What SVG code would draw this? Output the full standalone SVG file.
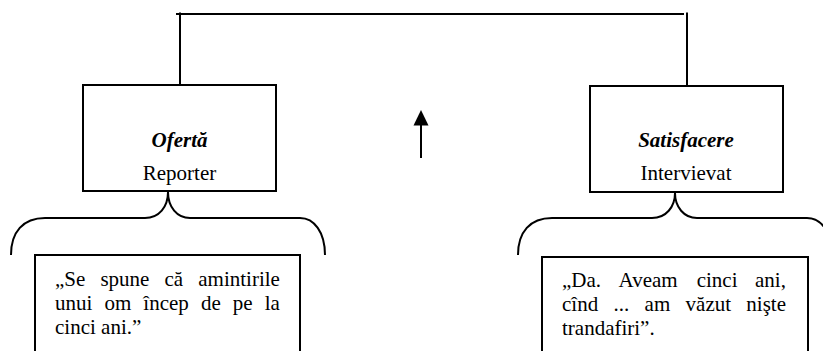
<svg xmlns="http://www.w3.org/2000/svg" width="823" height="351" viewBox="0 0 823 351">
<style>
.ln{fill:none;stroke:#000;stroke-width:2}
.box{fill:#fff;stroke:#000;stroke-width:2}
text{font-family:'Liberation Serif',serif;font-size:21px;fill:#000}
.h{font-weight:bold;font-style:italic}
.c{text-anchor:middle}
</style>
<rect width="823" height="351" fill="#fff"/>
<g id="connectors">
<line class="ln" x1="176" y1="14" x2="684" y2="14"/>
<line class="ln" x1="180" y1="12.5" x2="180" y2="85"/>
<line class="ln" x1="687" y1="12.5" x2="687" y2="86"/>
<line class="ln" x1="421" y1="158" x2="421" y2="122"/>
<polygon points="421,110 413.5,125.5 428.5,125.5" fill="#000"/>
<path class="ln" d="M11,255 C11,232 23,218 45,218 L145,218 C159,218 168,207 168,192 L168,184 M168,192 C168,207 177,218 190,218 L300,218 C314,218 325,232 325,255"/>
<path class="ln" d="M518,255 C518,232 530,218 552,218 L652,218 C666,218 675,207 675,193 L675,185 M675,193 C675,207 684,218 697,218 L807,218 C821,218 832,232 832,255"/>
</g>
<g id="oferta">
<rect class="box" x="83" y="85" width="193" height="106"/>
<text class="h c" x="179.5" y="147" font-family="Liberation Serif, serif">Ofertă</text>
<text class="c" x="179.5" y="180" font-family="Liberation Serif, serif">Reporter</text>
</g>
<g id="satisfacere">
<rect class="box" x="590" y="86" width="193" height="106"/>
<text class="h c" x="686" y="147" font-family="Liberation Serif, serif">Satisfacere</text>
<text class="c" x="686" y="180" font-family="Liberation Serif, serif">Intervievat</text>
</g>
<g id="quote-left" font-family="Liberation Serif, serif">
<rect class="box" x="35" y="255" width="265" height="110"/>
<text y="286"><tspan x="55">„Se</tspan><tspan x="100.4">spune</tspan><tspan x="164.5">că</tspan><tspan x="198.3">amintirile</tspan></text>
<text y="310"><tspan x="55">unui</tspan><tspan x="104.4">om</tspan><tspan x="143.3">încep</tspan><tspan x="200.9">de</tspan><tspan x="232.8">pe</tspan><tspan x="264.7">la</tspan></text>
<text x="55" y="334">cinci ani.”</text>
</g>
<g id="quote-right" font-family="Liberation Serif, serif">
<rect class="box" x="542" y="257" width="266" height="110"/>
<text y="287"><tspan x="562">„Da.</tspan><tspan x="618.6">Aveam</tspan><tspan x="696.7">cinci</tspan><tspan x="755">ani,</tspan></text>
<text y="311"><tspan x="562">cînd</tspan><tspan x="613.5">...</tspan><tspan x="644.6">am</tspan><tspan x="685.6">văzut</tspan><tspan x="746.3">nişte</tspan></text>
<text x="562" y="335">trandafiri”.</text>
</g>
</svg>
